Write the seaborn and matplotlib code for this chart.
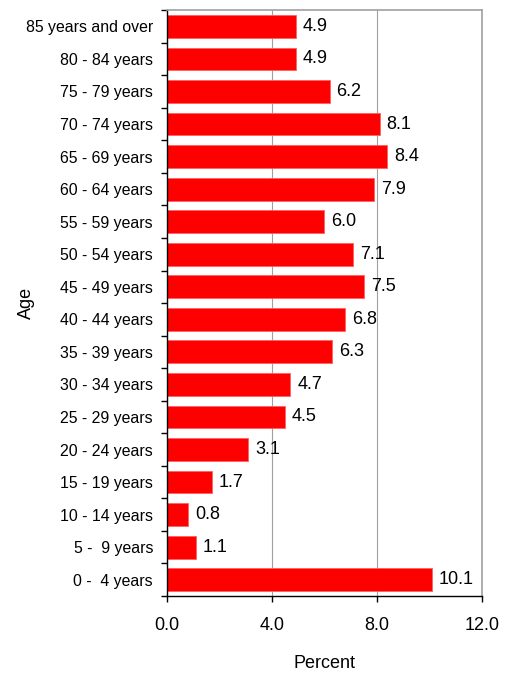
import numpy as np
import pandas as pd
import matplotlib
matplotlib.use("Agg")
import matplotlib.pyplot as plt
import seaborn as sns

ages = ["85 years and over", "80 - 84 years", "75 - 79 years", "70 - 74 years",
        "65 - 69 years", "60 - 64 years", "55 - 59 years", "50 - 54 years",
        "45 - 49 years", "40 - 44 years", "35 - 39 years", "30 - 34 years",
        "25 - 29 years", "20 - 24 years", "15 - 19 years", "10 - 14 years",
        "5 -  9 years", "0 -  4 years"]
percent = [4.9, 4.9, 6.2, 8.1, 8.4, 7.9, 6.0, 7.1, 7.5, 6.8, 6.3, 4.7,
           4.5, 3.1, 1.7, 0.8, 1.1, 10.1]
xticks = [0.0, 4.0, 8.0, 12.0]

df = pd.DataFrame({"Age": ages, "Percent": percent})

sns.set_style("white")
plt.rcParams["font.family"] = ["Liberation Sans", "DejaVu Sans"]
plt.rcParams["text.color"] = "black"
plt.rcParams["axes.labelcolor"] = "black"
plt.rcParams["xtick.color"] = "black"
plt.rcParams["ytick.color"] = "black"

fig = plt.figure(figsize=(5.17, 6.73), dpi=100)
ax = fig.add_axes([0.323, 0.1144, 0.609, 0.8706])

sns.barplot(data=df, x="Percent", y="Age", orient="h", color="#ff0000",
            saturation=1, width=0.7, ax=ax, zorder=2)
for b in ax.patches:
    b.set_edgecolor("#ff6060")
    b.set_linewidth(0.6)

ax.bar_label(ax.containers[0], fmt="%.1f", padding=5, fontsize=13, color="black")

ax.set_xlim(0, 12)
ax.set_ylim(len(ages) - 0.5, -0.5)
ax.set_xticks(xticks)
ax.set_xticklabels([f"{v:.1f}" for v in xticks], fontsize=13)
ax.tick_params(axis="x", bottom=True, direction="out", length=4, width=1,
               color="black", labelcolor="black", pad=11)

ax.set_yticks(range(len(ages)))
ax.set_yticklabels(ages, fontsize=11.4)
ax.tick_params(axis="y", which="major", left=True, length=0, pad=10, labelcolor="black")
ax.set_yticks(np.arange(-0.5, len(ages)), minor=True)
ax.tick_params(axis="y", which="minor", left=True, direction="out", length=4,
               width=1, color="black")

ax.xaxis.grid(True, color="#a0a0a0", linewidth=0.8, zorder=0)
ax.set_axisbelow(True)

for side in ["top", "right"]:
    ax.spines[side].set_color("#a0a0a0")
    ax.spines[side].set_linewidth(1.2)
for side in ["left", "bottom"]:
    ax.spines[side].set_color("black")
    ax.spines[side].set_linewidth(1.0)

ax.set_xlabel("Percent", fontsize=13, labelpad=15, color="black")
ax.set_ylabel("Age", fontsize=13, color="black")
ax.yaxis.set_label_coords(-0.419, 0.5)

fig.savefig("out.png", dpi=100)
